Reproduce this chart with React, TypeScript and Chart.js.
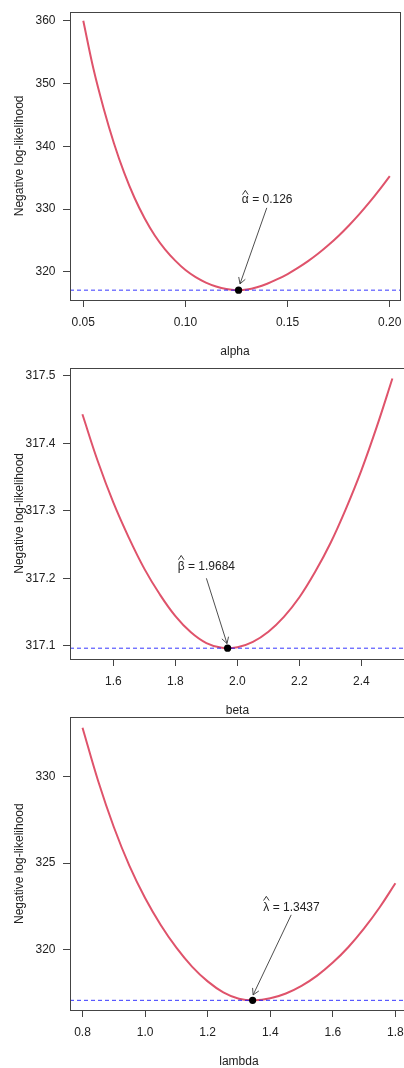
import React, { useEffect, useRef } from "react";
import { Chart, registerables } from "chart.js";

Chart.register(...registerables);

// ---------- data ----------
const alphaGrid = [
  0.05, 0.055, 0.06, 0.065, 0.07, 0.075, 0.08, 0.085, 0.09, 0.095, 0.1, 0.105, 0.11, 0.115, 0.12, 0.125,
  0.13, 0.135, 0.14, 0.145, 0.15, 0.155, 0.16, 0.165, 0.17, 0.175, 0.18, 0.185, 0.19, 0.195, 0.2,
];
const alphaNLL = [
  360.0, 352.3, 346.0, 340.5, 335.8, 331.85, 328.55, 325.8, 323.6, 321.8, 320.3, 319.17, 318.31, 317.69, 317.28, 317.1,
  317.19, 317.56, 318.12, 318.84, 319.67, 320.64, 321.72, 322.93, 324.28, 325.77, 327.4, 329.16, 331.06, 333.1, 335.26,
];
const alphaXTicks = [0.05, 0.1, 0.15, 0.2];
const alphaXTickLabels = ["0.05", "0.10", "0.15", "0.20"];
const alphaYTicks = [320, 330, 340, 350, 360];
const alphaYTickLabels = ["320", "330", "340", "350", "360"];
const alphaHat = 0.126;

const betaGrid = [
  1.5, 1.55, 1.6, 1.65, 1.7, 1.75, 1.8, 1.85, 1.9, 1.95, 2.0, 2.05, 2.1, 2.15, 2.2, 2.25, 2.3, 2.35, 2.4, 2.45, 2.5,
];
const betaNLL = [
  317.443, 317.373, 317.312, 317.26, 317.214, 317.176, 317.144, 317.12, 317.104, 317.097, 317.098, 317.106, 317.121,
  317.143, 317.172, 317.209, 317.252, 317.303, 317.36, 317.425, 317.496,
];
const betaXTicks = [1.6, 1.8, 2.0, 2.2, 2.4];
const betaXTickLabels = ["1.6", "1.8", "2.0", "2.2", "2.4"];
const betaYTicks = [317.1, 317.2, 317.3, 317.4, 317.5];
const betaYTickLabels = ["317.1", "317.2", "317.3", "317.4", "317.5"];
const betaHat = 1.9684;

const lambdaGrid = [
  0.8, 0.85, 0.9, 0.95, 1.0, 1.05, 1.1, 1.15, 1.2, 1.25, 1.3, 1.35, 1.4, 1.45, 1.5, 1.55, 1.6, 1.65, 1.7, 1.75, 1.8,
];
const lambdaNLL = [
  332.8, 329.73, 327.08, 324.84, 322.99, 321.44, 320.13, 319.04, 318.19, 317.56, 317.19, 317.098, 317.211, 317.49,
  317.93, 318.52, 319.27, 320.17, 321.24, 322.46, 323.84,
];
const lambdaXTicks = [0.8, 1.0, 1.2, 1.4, 1.6, 1.8];
const lambdaXTickLabels = ["0.8", "1.0", "1.2", "1.4", "1.6", "1.8"];
const lambdaYTicks = [320, 325, 330];
const lambdaYTickLabels = ["320", "325", "330"];
const lambdaHat = 1.3437;

const minNLL = 317.0965;
const yTitle = "Negative log-likelihood";
const xTitles = ["alpha", "beta", "lambda"];
const hatSymbols = ["α", "β", "λ"];
const hatValueLabels = ["0.126", "1.9684", "1.3437"];

// ---------- styling / layout ----------
const FONT_FAMILY = '"Liberation Sans", Arial, Helvetica, sans-serif';
const FONT_SIZE = 12;
const TEXT_COLOR = "#222";
const AXIS_COLOR = "#444";
const CURVE_COLOR = "#DF536B";
const MIN_COLOR = "rgba(20,20,255,0.85)";

type PanelCfg = {
  top: number;
  canvasW: number;
  canvasH: number;
  plotTop: number;
  plotBottom: number;
  plotLeft: number;
  plotRight: number;
  xMin: number;
  xMax: number;
  yMin: number;
  yMax: number;
  grid: number[];
  nll: number[];
  xTicks: number[];
  xTickLabels: string[];
  yTicks: number[];
  yTickLabels: string[];
  hat: number;
  xTitle: string;
  symbol: string;
  valueLabel: string;
  textX: number;
  textY: number;
  arrowFromX: number;
  arrowFromY: number;
  arrowToX: number;
  arrowToY: number;
};

const panels: PanelCfg[] = [
  {
    top: 0, canvasW: 404, canvasH: 366, plotTop: 11.7, plotBottom: 300, plotLeft: 70, plotRight: 402.5,
    xMin: 0.0435, xMax: 0.205, yMin: 315.53, yMax: 361.44,
    grid: alphaGrid, nll: alphaNLL, xTicks: alphaXTicks, xTickLabels: alphaXTickLabels,
    yTicks: alphaYTicks, yTickLabels: alphaYTickLabels, hat: alphaHat,
    xTitle: xTitles[0], symbol: hatSymbols[0], valueLabel: hatValueLabels[0],
    textX: 0.14, textY: 331.6, arrowFromX: 0.1398, arrowFromY: 330.2, arrowToX: 0.1267, arrowToY: 318.1,
  },
  {
    top: 356, canvasW: 412, canvasH: 366, plotTop: 11.7, plotBottom: 303, plotLeft: 70, plotRight: 404.8,
    xMin: 1.46, xMax: 2.54, yMin: 317.0805, yMax: 317.512,
    grid: betaGrid, nll: betaNLL, xTicks: betaXTicks, xTickLabels: betaXTickLabels,
    yTicks: betaYTicks, yTickLabels: betaYTickLabels, hat: betaHat,
    xTitle: xTitles[1], symbol: hatSymbols[1], valueLabel: hatValueLabels[1],
    textX: 1.9, textY: 317.218, arrowFromX: 1.9, arrowFromY: 317.2, arrowToX: 1.9665, arrowToY: 317.1034,
  },
  {
    top: 712, canvasW: 412, canvasH: 356, plotTop: 5.3, plotBottom: 298, plotLeft: 70, plotRight: 407.9,
    xMin: 0.76, xMax: 1.84, yMin: 316.54, yMax: 333.4,
    grid: lambdaGrid, nll: lambdaNLL, xTicks: lambdaXTicks, xTickLabels: lambdaXTickLabels,
    yTicks: lambdaYTicks, yTickLabels: lambdaYTickLabels, hat: lambdaHat,
    xTitle: xTitles[2], symbol: hatSymbols[2], valueLabel: hatValueLabels[2],
    textX: 1.468, textY: 322.47, arrowFromX: 1.467, arrowFromY: 322.02, arrowToX: 1.3453, arrowToY: 317.41,
  },
];

function labelFor(ticks: number[], labels: string[], v: number) {
  const i = ticks.findIndex((t) => Math.abs(t - v) < 1e-9);
  return i >= 0 ? labels[i] : "";
}

function makeDecorPlugin(cfg: PanelCfg) {
  return {
    id: "decor",
    afterDatasetsDraw(chart: any) {
      const ctx = chart.ctx as CanvasRenderingContext2D;
      const xs = chart.scales.x;
      const ys = chart.scales.y;
      // arrow
      const x0 = xs.getPixelForValue(cfg.arrowFromX);
      const y0 = ys.getPixelForValue(cfg.arrowFromY);
      const x1 = xs.getPixelForValue(cfg.arrowToX);
      const y1 = ys.getPixelForValue(cfg.arrowToY);
      ctx.save();
      ctx.strokeStyle = "#3a3a3a";
      ctx.lineWidth = 0.9;
      ctx.beginPath();
      ctx.moveTo(x0, y0);
      ctx.lineTo(x1, y1);
      const a = Math.atan2(y1 - y0, x1 - x0);
      const L = 7;
      ctx.moveTo(x1 - L * Math.cos(a - Math.PI / 6), y1 - L * Math.sin(a - Math.PI / 6));
      ctx.lineTo(x1, y1);
      ctx.lineTo(x1 - L * Math.cos(a + Math.PI / 6), y1 - L * Math.sin(a + Math.PI / 6));
      ctx.stroke();

      // label with hat
      ctx.font = `${FONT_SIZE}px ${FONT_FAMILY}`;
      ctx.fillStyle = TEXT_COLOR;
      ctx.textBaseline = "alphabetic";
      ctx.textAlign = "left";
      const text = `${cfg.symbol} = ${cfg.valueLabel}`;
      const w = ctx.measureText(text).width;
      const cx = xs.getPixelForValue(cfg.textX);
      const cy = ys.getPixelForValue(cfg.textY);
      const baseline = cy + (FONT_SIZE * 0.716) / 2;
      const sx = cx - w / 2;
      ctx.fillText(text, sx, baseline);
      const gm = ctx.measureText(cfg.symbol);
      const gc = sx + gm.width / 2;
      const asc = gm.actualBoundingBoxAscent || FONT_SIZE * 0.55;
      const hb = baseline - asc - 1.8;
      ctx.beginPath();
      ctx.lineWidth = 0.9;
      ctx.strokeStyle = TEXT_COLOR;
      ctx.moveTo(gc - 2.8, hb);
      ctx.lineTo(gc, hb - 4.2);
      ctx.lineTo(gc + 2.8, hb);
      ctx.stroke();
      ctx.restore();
    },
    afterDraw(chart: any) {
      const ctx = chart.ctx as CanvasRenderingContext2D;
      const ca = chart.chartArea;
      ctx.save();
      ctx.strokeStyle = AXIS_COLOR;
      ctx.lineWidth = 1;
      ctx.strokeRect(
        Math.round(ca.left) + 0.5,
        Math.round(ca.top) + 0.5,
        Math.floor(ca.right - ca.left),
        Math.round(ca.bottom - ca.top)
      );
      ctx.font = `${FONT_SIZE}px ${FONT_FAMILY}`;
      ctx.fillStyle = TEXT_COLOR;
      ctx.textAlign = "center";
      ctx.textBaseline = "middle";
      ctx.fillText(cfg.xTitle, (ca.left + ca.right) / 2, ca.bottom + 52);
      ctx.translate(20, (ca.top + ca.bottom) / 2);
      ctx.rotate(-Math.PI / 2);
      ctx.fillText(yTitle, 0, 0);
      ctx.restore();
    },
  };
}

function Panel({ cfg }: { cfg: PanelCfg }) {
  const ref = useRef<HTMLCanvasElement | null>(null);
  useEffect(() => {
    const canvas = ref.current;
    if (!canvas) return;
    const font = { family: FONT_FAMILY, size: FONT_SIZE };
    const chart = new Chart(canvas, {
      type: "scatter",
      data: {
        datasets: [
          {
            data: [{ x: cfg.hat, y: minNLL }],
            pointRadius: 3.6,
            pointBackgroundColor: "#000",
            pointBorderColor: "#000",
            pointBorderWidth: 0,
            showLine: false,
          },
          {
            data: [
              { x: cfg.xMin, y: minNLL },
              { x: cfg.xMax, y: minNLL },
            ],
            showLine: true,
            borderColor: MIN_COLOR,
            borderWidth: 1,
            borderDash: [4, 3],
            pointRadius: 0,
          },
          {
            data: cfg.grid.map((x, i) => ({ x, y: cfg.nll[i] })),
            showLine: true,
            borderColor: CURVE_COLOR,
            borderWidth: 2,
            pointRadius: 0,
            tension: 0.4,
          },
        ],
      } as any,
      options: {
        responsive: false,
        animation: false,
        devicePixelRatio: 1,
        events: [],
        layout: {
          padding: { top: cfg.plotTop, right: cfg.canvasW - cfg.plotRight, left: 0, bottom: 0 },
        },
        plugins: { legend: { display: false }, tooltip: { enabled: false }, title: { display: false } },
        scales: {
          x: {
            type: "linear",
            min: cfg.xMin,
            max: cfg.xMax,
            afterBuildTicks: (s: any) => {
              s.ticks = cfg.xTicks.map((v) => ({ value: v }));
            },
            afterFit: (s: any) => {
              s.height = cfg.canvasH - cfg.plotBottom;
              s.paddingLeft = 0;
              s.paddingRight = 0;
            },
            ticks: {
              callback: (v: any) => labelFor(cfg.xTicks, cfg.xTickLabels, Number(v)),
              autoSkip: false,
              maxRotation: 0,
              minRotation: 0,
              font,
              color: TEXT_COLOR,
              padding: 8,
            },
            grid: { drawOnChartArea: false, drawTicks: true, tickLength: 7, color: AXIS_COLOR, lineWidth: 1 },
            border: { display: false },
          },
          y: {
            type: "linear",
            min: cfg.yMin,
            max: cfg.yMax,
            afterBuildTicks: (s: any) => {
              s.ticks = cfg.yTicks.map((v) => ({ value: v }));
            },
            afterFit: (s: any) => {
              s.width = cfg.plotLeft;
              s.paddingTop = 0;
              s.paddingBottom = 0;
            },
            ticks: {
              callback: (v: any) => labelFor(cfg.yTicks, cfg.yTickLabels, Number(v)),
              autoSkip: false,
              font,
              color: TEXT_COLOR,
              padding: 7.5,
            },
            grid: { drawOnChartArea: false, drawTicks: true, tickLength: 7, color: AXIS_COLOR, lineWidth: 1 },
            border: { display: false },
          },
        },
      } as any,
      plugins: [makeDecorPlugin(cfg)],
    });
    return () => chart.destroy();
  }, [cfg]);
  return (
    <canvas
      ref={ref}
      width={cfg.canvasW}
      height={cfg.canvasH}
      style={{ position: "absolute", left: 0, top: cfg.top, width: cfg.canvasW, height: cfg.canvasH }}
    />
  );
}

export default function App() {
  return (
    <div
      style={{
        position: "absolute",
        left: 0,
        top: 0,
        width: 404,
        height: 1068,
        overflow: "hidden",
        background: "#fff",
      }}
    >
      {panels.map((p, i) => (
        <Panel key={i} cfg={p} />
      ))}
    </div>
  );
}
